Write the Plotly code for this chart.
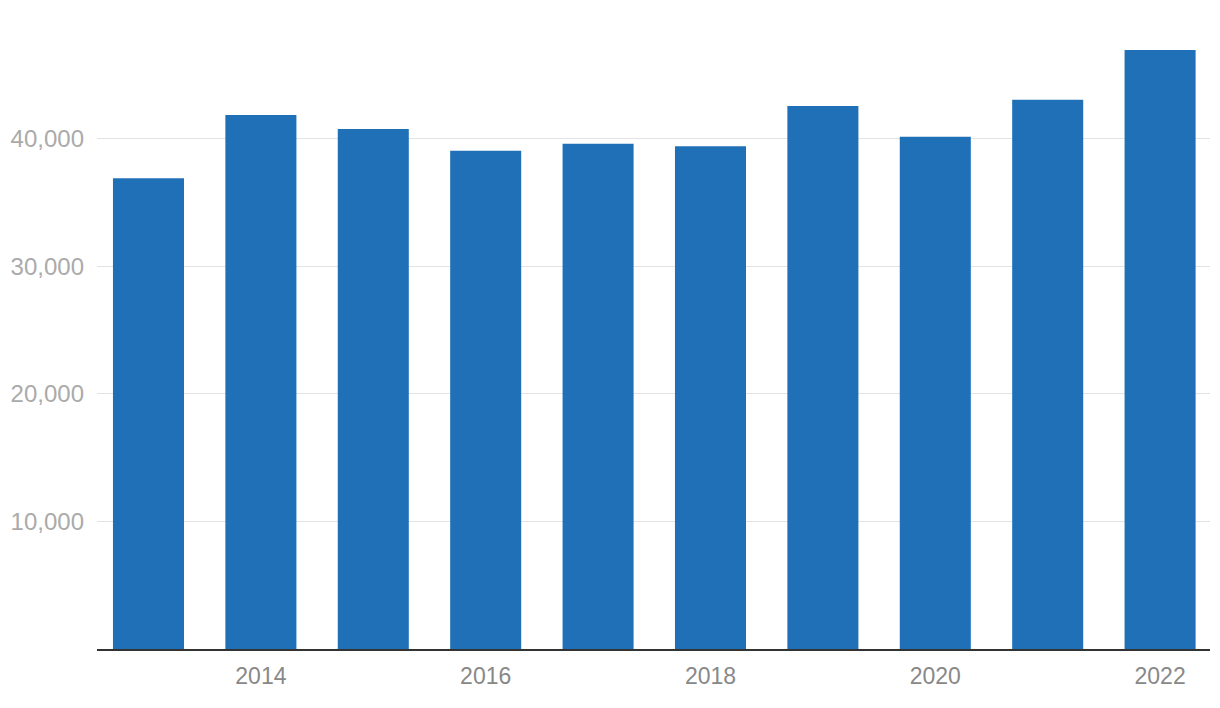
import plotly.graph_objects as go

years = [2013, 2014, 2015, 2016, 2017, 2018, 2019, 2020, 2021, 2022]
values = [36900, 41850, 40750, 39050, 39600, 39400, 42550, 40150, 43050, 46950]
y_ticks = [10000, 20000, 30000, 40000]
y_tick_labels = ["10,000", "20,000", "30,000", "40,000"]
x_ticks = [2014, 2016, 2018, 2020, 2022]

fig = go.Figure(
    go.Bar(x=years, y=values, marker=dict(color="#2070b8", line=dict(width=0)))
)

# page body has an 8px default margin, so the figure is 8px smaller and margins adjusted
fig.update_layout(
    width=1212,
    height=700,
    margin=dict(l=89, r=10, t=3, b=59),
    paper_bgcolor="white",
    plot_bgcolor="white",
    bargap=0.368,
    showlegend=False,
    font=dict(family="Liberation Sans, Arial, sans-serif"),
)

fig.update_xaxes(
    range=[2012.542, 2022.444],
    tickvals=x_ticks,
    ticktext=[str(v) for v in x_ticks],
    showgrid=False,
    showline=True,
    linecolor="#333333",
    linewidth=2,
    ticks="",
    ticklabelstandoff=5,
    tickfont=dict(size=23, color="#888888"),
    zeroline=False,
)

fig.update_yaxes(
    range=[0, 50000],
    tickvals=y_ticks,
    ticktext=y_tick_labels,
    showgrid=True,
    gridcolor="#e3e3e3",
    gridwidth=1,
    showline=False,
    zeroline=False,
    ticks="",
    ticklabelstandoff=12,
    tickfont=dict(size=24, color="#aaaaaa"),
)

fig.write_html("out.html")
